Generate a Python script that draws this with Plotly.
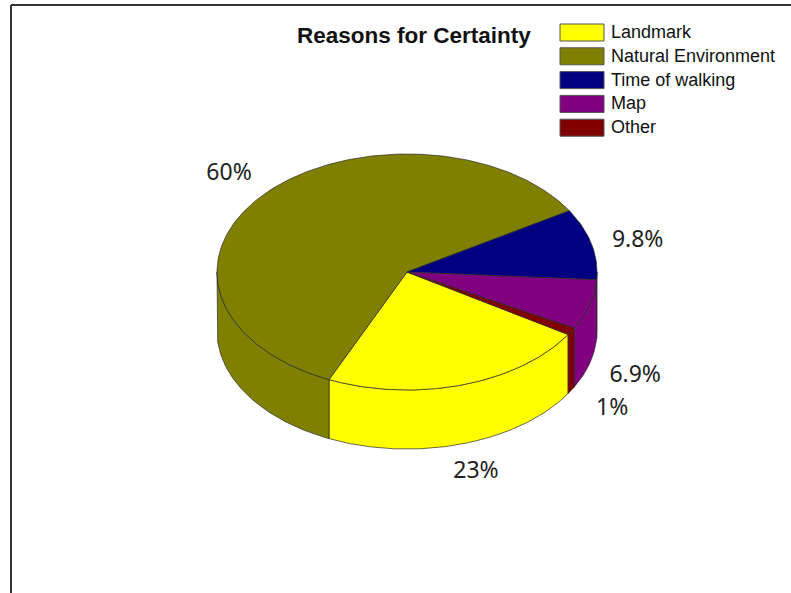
import numpy as np
import plotly.graph_objects as go

# Chart data
categories = ["Landmark", "Natural Environment", "Time of walking", "Map", "Other"]
shares = [23, 60, 9.8, 6.9, 1]
colors = ["#FFFF00", "#808000", "#000080", "#800080", "#800000"]
title_text = "Reasons for Certainty"

# Geometry of the tilted pie (in canvas units)
W, H = 791, 593
CX, CY = 407, 272          # centre of the top face
RX, RY = 190, 118          # ellipse radii of the top face
DEPTH = 59                 # thickness of the pie
START = -32.0              # angle of the first slice edge (deg, counter-clockwise from 3 o'clock)
EDGE = "#2a2a2a"


def top_xy(a_deg):
    a = np.radians(a_deg)
    return CX + RX * np.cos(a), CY - RY * np.sin(a)


def arc(a_from, a_to, n=None):
    if n is None:
        n = max(4, int(abs(a_to - a_from) / 1.0) + 2)
    return np.linspace(a_from, a_to, n)


fig = go.Figure()

total = float(sum(shares))
spans = [s / total * 360.0 for s in shares]
bounds = []
a = START
for sp in spans:
    bounds.append((a, a - sp))   # slices run clockwise
    a -= sp

# Side walls (only the front half of the cylinder is visible)
for (a0, a1), col, name in zip(bounds, colors, categories):
    hi, lo = a0, a1
    for k in range(-3, 2):
        seg_hi = min(hi, 0 + 360 * k)
        seg_lo = max(lo, -180 + 360 * k)
        if seg_hi - seg_lo <= 0.01:
            continue
        angs = arc(seg_hi, seg_lo)
        tx, ty = top_xy(angs)
        xs = list(tx) + list(tx[::-1]) + [tx[0]]
        ys = list(ty) + list((ty + DEPTH)[::-1]) + [ty[0]]
        fig.add_trace(go.Scatter(
            x=xs, y=ys, mode="lines", fill="toself", fillcolor=col,
            line=dict(color=EDGE, width=0.7), hoverinfo="skip", showlegend=False,
        ))

# Top face wedges
for (a0, a1), col, name, v in zip(bounds, colors, categories, shares):
    angs = arc(a0, a1)
    tx, ty = top_xy(angs)
    xs = [CX] + list(tx) + [CX]
    ys = [CY] + list(ty) + [CY]
    fig.add_trace(go.Scatter(
        x=xs, y=ys, mode="lines", fill="toself", fillcolor=col,
        line=dict(color=EDGE, width=0.7), name=name,
        hovertemplate=f"{name}: {v:g}%<extra></extra>", showlegend=False,
    ))

# Percentage labels placed outside each slice
lab_x, lab_y, lab_t = [], [], []
for (a0, a1), v in zip(bounds, shares):
    mid = np.radians((a0 + a1) / 2.0)
    lx = CX + 1.25 * RX * np.cos(mid)
    ly = CY - 1.25 * RY * np.sin(mid)
    if np.cos(mid) > 0.5:
        ly += 4
    if np.sin(mid) < 0:
        ly += DEPTH
    lab_x.append(lx)
    lab_y.append(ly)
    lab_t.append(f"{v:g}%")
fig.add_trace(go.Scatter(
    x=lab_x, y=lab_y, mode="text", text=lab_t, textposition="middle center",
    textfont=dict(family="Noto Sans", size=23, color="#222222"),
    hoverinfo="skip", showlegend=False,
))

shapes = []
annotations = []

# Legend
LEG_X0, LEG_X1 = 560, 604
LEG_Y0, LEG_STEP, LEG_H = 24, 23.8, 17
for i, (name, col) in enumerate(zip(categories, colors)):
    y0 = LEG_Y0 + i * LEG_STEP
    shapes.append(dict(type="rect", xref="x", yref="y", x0=LEG_X0, x1=LEG_X1,
                       y0=y0, y1=y0 + LEG_H, fillcolor=col,
                       line=dict(color="#555555", width=1)))
    annotations.append(dict(x=LEG_X1 + 5, y=y0 + LEG_H / 2 - 0.5, xref="x", yref="y",
                            text=name, showarrow=False, xanchor="left", yanchor="middle",
                            font=dict(family="Liberation Sans", size=18, color="#111111")))

# Title
annotations.append(dict(x=414, y=35, xref="x", yref="y", text=f"<b>{title_text}</b>",
                        showarrow=False, xanchor="center", yanchor="middle",
                        font=dict(family="Liberation Sans", size=22.5, color="#111111")))

# Chart frame (left and top edges)
shapes.append(dict(type="line", xref="x", yref="y", x0=11, x1=11, y0=5, y1=H + 5,
                   line=dict(color="#333333", width=2)))
shapes.append(dict(type="line", xref="x", yref="y", x0=11, x1=W + 5, y0=5, y1=5,
                   line=dict(color="#333333", width=2)))

fig.update_layout(
    width=W, height=H,
    margin=dict(l=0, r=0, t=0, b=0),
    paper_bgcolor="white", plot_bgcolor="white",
    xaxis=dict(range=[0, W], visible=False, fixedrange=True),
    yaxis=dict(range=[H, 0], visible=False, fixedrange=True),
    shapes=shapes, annotations=annotations,
    showlegend=False,
)

fig.write_html("out.html")
